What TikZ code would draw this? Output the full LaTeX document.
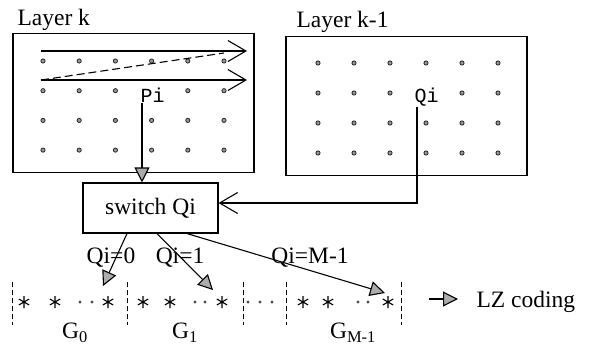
\documentclass[tikz,border=0pt]{standalone}
\usepackage{fontspec}
\setmainfont{Liberation Serif}
\setmonofont{Liberation Mono}
\usetikzlibrary{arrows.meta,positioning}

\begin{document}
\begin{tikzpicture}[x=1pt,y=-1pt,>=Latex,line width=1.1pt,
layer/.style={draw,minimum width=241pt,minimum height=139pt,inner sep=0pt},
cell/.style={circle,draw=black!85,line width=0.8pt,fill=gray!80,inner sep=0pt,minimum size=4.2pt},
lbl/.style={font=\fontsize{23.5}{25}\selectfont,inner sep=0pt},
pix/.style={font=\ttfamily\fontsize{20}{21}\selectfont,inner sep=0pt},
barb/.style={-{Straight Barb[length=18pt,width=21pt,line width=1.1pt]}},
fillhead/.style={-{Triangle[length=15pt,width=15pt,fill=gray!65]}},
sep/.style={dash pattern=on 5pt off 3pt,line width=1pt},
seqdot/.style={circle,fill=black!70,inner sep=0pt,minimum size=3.2pt}]
\useasboundingbox (0,0) rectangle (591,354);

% the two layers
\node[layer] (layerk) at (133.5,103) {};
\node[layer] (layerkm) at (406.5,106) {};
\node[lbl,anchor=base west] (labk) at (17,25) {Layer k};
\node[lbl,anchor=base west] (labkm) at (296,27) {Layer k-1};
\foreach \c in {0,...,5}
  \foreach \r in {0,...,3} {
    \ifnum\c\r=31\else
      \node[cell] (pk\c\r) at (43+36.2*\c,61+29.7*\r) {};
      \node[cell] (qk\c\r) at (318+36*\c,63+30*\r) {};
    \fi
  }
\node[pix,anchor=west] (pi) at (140,95) {Pi};
\node[pix,anchor=west] (qi) at (414,97) {Qi};

% scan order in layer k
\coordinate (rowAs) at (41,51);
\coordinate (rowAe) at (247,51);
\coordinate (rowBs) at (41,80);
\coordinate (rowBe) at (247,80);
\coordinate (backe) at (224,53);
\draw[barb] (rowAs) -- (rowAe);
\draw[barb] (rowBs) -- (rowBe);
\draw[dash pattern=on 8pt off 4pt] (rowBs) -- (backe);

% switch
\node[draw,lbl,minimum width=135pt,minimum height=50pt] (switch) at (150.5,208) {switch Qi};
\draw[fillhead] ([xshift=2pt]pi.south west) -- ([xshift=2pt]pi.south west |- switch.north);
\draw[barb] ([xshift=3pt]qi.south west) |- ([yshift=5pt]switch.east);

% groups
\coordinate (g0in) at (103,286);
\coordinate (g1in) at (213,290);
\coordinate (gmin) at (385,293);
\draw[fillhead] ([xshift=-23.5pt]switch.south) -- (g0in);
\draw[fillhead] ([xshift=6.5pt]switch.south) -- (g1in);
\draw[fillhead] ([xshift=36.5pt]switch.south) -- (gmin);
\node[lbl] (sel0) at (111,258) {Qi=0};
\node[lbl] (sel1) at (180,258) {Qi=1};
\node[lbl] (selm) at (310,258) {Qi=M-1};

\foreach \x in {12,127,243,286,401}
  \draw[sep] (\x,282) -- (\x,325);
\foreach \x in {24,55,108,143,170,222,303,328,388}
  \draw[line width=1.1pt] (\x,296) -- (\x,308)
    (\x-5.2,299) -- (\x+5.2,305) (\x-5.2,305) -- (\x+5.2,299);
\foreach \x in {80,92,195,205,248,260,272,358,368}
  \node[seqdot] (dt\x) at (\x,302) {};
\node[lbl] (grp0) at (75,333) {G\textsubscript{0}};
\node[lbl] (grp1) at (185,333) {G\textsubscript{1}};
\node[lbl] (grpm) at (353,333) {G\textsubscript{M-1}};

% output
\coordinate (lzs) at (429,299);
\node[lbl,anchor=west] (lz) at (476,302) {LZ coding};
\draw[fillhead,shorten >=18pt] (lzs) -- (lzs -| lz.west);
\end{tikzpicture}
\end{document}
